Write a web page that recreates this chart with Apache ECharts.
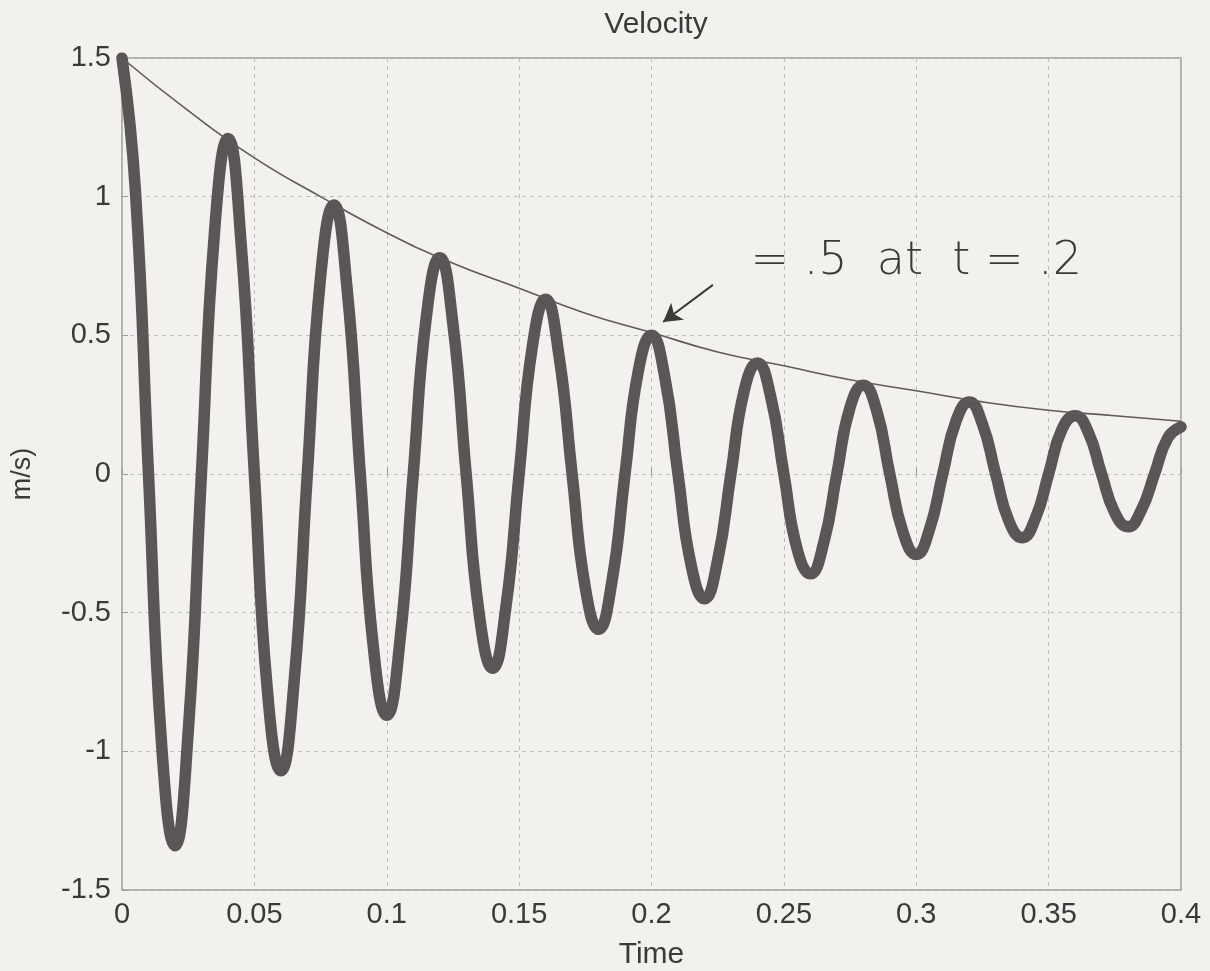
<!DOCTYPE html>
<html><head><meta charset="utf-8">
<script src="https://cdn.jsdelivr.net/npm/echarts@6/dist/echarts.min.js"></script>
<style>html,body{margin:0;padding:0;background:#f2f1ee}#c{width:1210px;height:971px}</style>
</head><body><div id="c"></div>
<script>
// Time samples (s) and velocity (m/s)
const timeValues = [0,0.005,0.01,0.015,0.02,0.025,0.03,0.035,0.04,0.045,0.05,0.055,0.06,0.065,0.07,0.075,0.08,0.085,0.09,0.095,0.1,0.105,0.11,0.115,0.12,0.125,0.13,0.135,0.14,0.145,0.15,0.155,0.16,0.165,0.17,0.175,0.18,0.185,0.19,0.195,0.2,0.205,0.21,0.215,0.22,0.225,0.23,0.235,0.24,0.245,0.25,0.255,0.26,0.265,0.27,0.275,0.28,0.285,0.29,0.295,0.3,0.305,0.31,0.315,0.32,0.325,0.33,0.335,0.34,0.345,0.35,0.355,0.36,0.365,0.37,0.375,0.38,0.385,0.39,0.395,0.4];
const velocityValues = [1.5,1.03,0,-0.98,-1.34,-0.93,0,0.88,1.21,0.83,0,-0.79,-1.07,-0.75,0,0.71,0.97,0.67,0,-0.63,-0.87,-0.60,0,0.57,0.78,0.54,0,-0.51,-0.70,-0.48,0,0.46,0.63,0.43,0,-0.41,-0.56,-0.39,0,0.37,0.50,0.35,0,-0.33,-0.45,-0.31,0,0.30,0.40,0.28,0,-0.27,-0.36,-0.25,0,0.24,0.32,0.23,0,-0.21,-0.29,-0.20,0,0.19,0.26,0.18,0,-0.17,-0.23,-0.16,0,0.16,0.21,0.15,0,-0.14,-0.19,-0.13,0,0.13,0.17];
// Envelope curve
const envelopeTime = [0,0.025,0.05,0.075,0.1,0.125,0.15,0.175,0.2,0.225,0.25,0.275,0.3,0.325,0.35,0.375,0.4];
const envelopeValues = [1.5,1.31,1.14,1.0,0.87,0.76,0.67,0.58,0.51,0.44,0.39,0.34,0.30,0.26,0.23,0.21,0.19];
// Annotation
const noteText = '= .5  at  t = .2';
const notePos = [0.3, 0.765];
const arrowFrom = [0.2232, 0.682];
const arrowTo = [0.2044, 0.548];
const xTicks = ['0','0.05','0.1','0.15','0.2','0.25','0.3','0.35','0.4'];

const zip = (a,b) => a.map((v,i)=>[v,b[i]]);
const font = 'Liberation Sans, Arial, sans-serif';
const chart = echarts.init(document.getElementById('c'), null, {renderer:'canvas'});
chart.setOption({
  backgroundColor:'#f2f1ee',
  animation:false,
  title:{text:'Velocity', left:651, textAlign:'center', top:5,
    textStyle:{fontFamily:font, fontSize:30, fontWeight:'normal', color:'#3a3a3a'}},
  grid:{left:122, right:29, top:58, bottom:81, show:true, borderColor:'#9a9a9a', borderWidth:1.5,
    backgroundColor:'transparent', containLabel:false, outerBoundsMode:'none'},
  xAxis:{type:'value', min:0, max:0.4, interval:0.05, name:'Time', nameLocation:'middle', nameGap:50,
    nameTextStyle:{fontFamily:font, fontSize:30, color:'#3a3a3a'},
    axisLine:{show:false}, axisTick:{show:true, inside:true, length:6, lineStyle:{color:'#9a9a9a'}},
    axisLabel:{fontFamily:font, fontSize:29, color:'#3a3a3a', margin:10, formatter:(v)=>xTicks[Math.round(v/0.05)]},
    splitLine:{show:true, lineStyle:{color:'#bdbdbd', type:[4,4], width:1}}},
  yAxis:{type:'value', min:-1.5, max:1.5, interval:0.5, name:'m/s)', nameLocation:'middle', nameGap:86, nameRotate:90,
    nameTextStyle:{fontFamily:font, fontSize:27, color:'#3a3a3a'},
    axisLine:{show:false}, axisTick:{show:true, inside:true, length:6, lineStyle:{color:'#9a9a9a'}},
    axisLabel:{fontFamily:font, fontSize:29, color:'#3a3a3a', margin:11},
    splitLine:{show:true, lineStyle:{color:'#bdbdbd', type:[4,4], width:1}}},
  series:[
    {type:'line', data:zip(envelopeTime, envelopeValues), smooth:true, symbol:'none',
      lineStyle:{color:'#5f5b5b', width:1.6}, z:3,
      markPoint:{symbol:'rect', symbolSize:1, itemStyle:{color:'transparent'},
        label:{show:true, position:'inside', formatter:noteText, fontFamily:'DejaVu Sans', fontSize:46, fontWeight:'lighter', color:'#3a3a3a'},
        data:[{coord:notePos}]},
      markLine:{symbol:['none','arrow'], symbolSize:[16,18], silent:true, label:{show:false},
        lineStyle:{color:'#3a3a3a', width:2, type:'solid'},
        data:[[{coord:arrowFrom},{coord:arrowTo}]]}},
    {type:'line', data:zip(timeValues, velocityValues), smooth:0.5, symbol:'none',
      lineStyle:{color:'#5a5556', width:11.5, cap:'round', join:'round'}, z:2}
  ]
});
</script></body></html>
